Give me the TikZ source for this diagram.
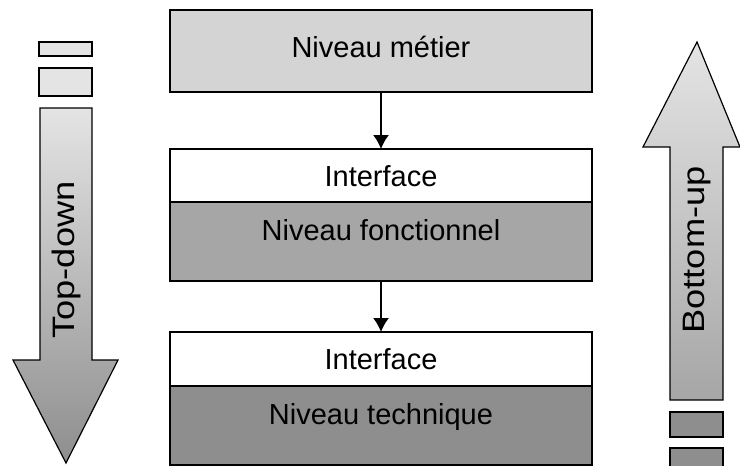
\documentclass[tikz,border=0pt]{standalone}
\usepackage{fontspec}
\setmainfont{Liberation Sans}
\usetikzlibrary{arrows.meta,positioning}
\definecolor{metiergray}{RGB}{212,212,212}
\definecolor{fonctgray}{RGB}{166,166,166}
\definecolor{techgray}{RGB}{142,142,142}
\definecolor{palegray}{RGB}{228,228,228}

\begin{document}
\begin{tikzpicture}[x=1pt,y=-1pt,
  layer/.style={draw=black,line width=1.3pt,minimum width=422pt,inner sep=0pt,outer sep=0pt,
    font=\fontsize{29}{34}\selectfont,text height=21pt,text depth=23pt},
  iface/.style={layer,fill=white,text depth=0pt},
  flow/.style={-{Latex[length=14pt,width=16pt]},line width=1.5pt},
  sidetext/.style={rotate=90,font=\fontsize{31}{36}\selectfont}]
\useasboundingbox (0,0) rectangle (740,466);
\clip (0,0) rectangle (740,466);

% Top-down arrow on the left
\filldraw[fill=palegray,line width=1.2pt] (39,42) rectangle (92,56);
\filldraw[fill=palegray,line width=1.2pt] (39,68) rectangle (92,96);
\shadedraw[top color=palegray,bottom color=techgray,line width=1.2pt]
  (40,108) -- (92,108) -- (92,360) -- (118,360) -- (66,463) -- (13,360) -- (40,360) -- cycle;
\node[sidetext] (topdown) at (66,260) {\scalebox{1.17}[1]{Top-down}};

% Bottom-up arrow on the right
\shadedraw[top color=palegray,bottom color=fonctgray,line width=1.2pt]
  (697,42) -- (740,147) -- (723,147) -- (723,400) -- (670,400) -- (670,147) -- (643,147) -- cycle;
\filldraw[fill=techgray,line width=1.2pt] (670,412) rectangle (723,437);
\filldraw[fill=techgray,line width=1.2pt] (670,448) rectangle (723,472);
\node[sidetext] (bottomup) at (697,250) {\scalebox{1.17}[1]{Bottom-up}};

% the three levels
\node[layer,fill=metiergray,minimum height=82pt,text depth=8pt] (metier) at (381,51) {Niveau métier};
\node[iface,minimum height=53pt] (iface1) at (381,175.5) {Interface};
\node[layer,fill=fonctgray,minimum height=79pt,below=0pt of iface1] (fonct) {Niveau fonctionnel};
\node[iface,minimum height=54pt] (iface2) at (381,359) {Interface};
\node[layer,fill=techgray,minimum height=79pt,below=0pt of iface2] (tech) {Niveau technique};

\draw[flow] (metier) -- (iface1);
\draw[flow] (fonct) -- (iface2);
\end{tikzpicture}
\end{document}
